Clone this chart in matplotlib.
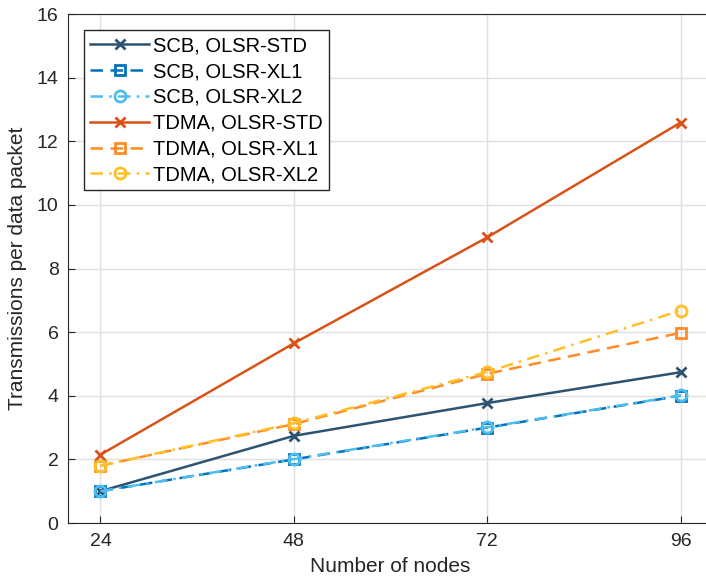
import numpy as np
import matplotlib.pyplot as plt

plt.rcParams['font.family'] = ['Liberation Sans', 'DejaVu Sans']

nodes = [24, 48, 72, 96]
scb_std = [1.0, 2.74, 3.77, 4.74]
scb_xl1 = [1.0, 2.0, 3.0, 4.0]
scb_xl2 = [1.0, 2.01, 3.01, 4.01]
tdma_std = [2.15, 5.65, 8.98, 12.59]
tdma_xl1 = [1.8, 3.11, 4.69, 5.98]
tdma_xl2 = [1.8, 3.14, 4.75, 6.68]
labels = ['SCB, OLSR-STD', 'SCB, OLSR-XL1', 'SCB, OLSR-XL2',
          'TDMA, OLSR-STD', 'TDMA, OLSR-XL1', 'TDMA, OLSR-XL2']

fig = plt.figure(figsize=(7.06, 5.86), dpi=100)
ax = fig.add_axes([0.0967, 0.1075, 0.913, 0.8685])

mfc = 'none'
lw = 1.8
ax.plot(nodes, scb_std, '-x', color='#2c5371', lw=lw, ms=6.5, mew=2, label=labels[0])
ax.plot(nodes, scb_xl1, '--s', color='#0072bd', lw=lw, ms=6.5, mew=2, mfc=mfc,
        dashes=(5, 3), label=labels[1])
ax.plot(nodes, scb_xl2, '-.o', color='#4dbeee', lw=lw, ms=8, mew=2, mfc=mfc,
        dashes=(5, 2.5, 1, 2.5), label=labels[2])
ax.plot(nodes, tdma_std, '-x', color='#d95319', lw=lw, ms=6.5, mew=2, label=labels[3])
ax.plot(nodes, tdma_xl1, '--s', color='#ff8c26', lw=lw, ms=6.5, mew=2, mfc=mfc,
        dashes=(5, 3), label=labels[4])
ax.plot(nodes, tdma_xl2, '-.o', color='#ffbf26', lw=lw, ms=8, mew=2, mfc=mfc,
        dashes=(5, 2.5, 1, 2.5), label=labels[5])

ax.set_xlim(20, 100)
ax.set_ylim(0, 16)
ax.set_xticks(nodes)
ax.set_yticks(np.arange(0, 17, 2))
ax.tick_params(direction='in', labelsize=14, colors='#262626', length=5, pad=7)
ax.grid(True, color='#e0e0e0', lw=1)
ax.set_axisbelow(True)
for s in ax.spines.values():
    s.set_color('#262626')
ax.set_xlabel('Number of nodes', fontsize=15, color='#262626', labelpad=5)
ax.set_ylabel('Transmissions per data packet', fontsize=15, color='#262626', labelpad=7)

leg = ax.legend(loc='upper left', fontsize=14.5, fancybox=False, framealpha=1,
                edgecolor='#262626', handlelength=2.9, borderaxespad=0.8,
                labelspacing=0.34, handletextpad=0.2, borderpad=0.3)
leg.get_frame().set_linewidth(1)

fig.savefig('out.png', dpi=100)
